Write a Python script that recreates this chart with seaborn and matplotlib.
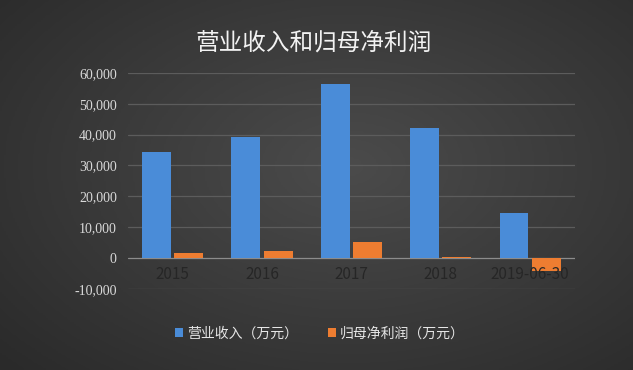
import matplotlib
matplotlib.use('Agg')
import matplotlib.pyplot as plt
from matplotlib.colors import LinearSegmentedColormap
import seaborn as sns
import numpy as np
import pandas as pd

# data (万元)
periods = ['2015', '2016', '2017', '2018', '2019-06-30']
revenue = [34400, 39300, 56500, 42200, 14700]
net_profit = [1700, 2400, 5300, 400, -4100]
series_names = ['营业收入（万元）', '归母净利润（万元）']
y_ticks = [-10000, 0, 10000, 20000, 30000, 40000, 50000, 60000]

df = pd.DataFrame({
    'period': periods * 2,
    'value': revenue + net_profit,
    'series': [series_names[0]] * len(periods) + [series_names[1]] * len(periods),
})

sns.set_theme(style='white')
plt.rcParams['font.family'] = ['Noto Sans CJK SC', 'DejaVu Sans']

fig = plt.figure(figsize=(6.33, 3.70), dpi=100)

# dark radial background
bg = fig.add_axes([0, 0, 1, 1], zorder=-10)
yy, xx = np.mgrid[0:1:200j, 0:1:340j]
r = np.sqrt(((xx - 0.55) / 0.75) ** 2 + ((yy - 0.45) / 0.8) ** 2)
bg_cmap = LinearSegmentedColormap.from_list('bg', ['#4b4b4b', '#2a2a2a'])
bg.imshow(r, cmap=bg_cmap, aspect='auto', extent=[0, 1, 0, 1], vmin=0, vmax=1)
bg.axis('off')

ax = fig.add_axes([0.202, 0.219, 0.706, 0.584])
ax.set_facecolor('none')

sns.barplot(data=df, x='period', y='value', hue='series',
            palette=['#4a8cd8', '#ee7d31'], width=0.72, gap=0.1,
            saturation=1, linewidth=0, edgecolor='none', ax=ax)

ax.set_ylim(-10000, 60000)
ax.set_yticks(y_ticks)
ax.set_yticklabels([f'{v:,}' for v in y_ticks], family=['Liberation Serif'],
                   fontsize=10, color='#d9d9d9')
ax.set_xticks(range(len(periods)))
ax.set_xticklabels(periods, family=['Liberation Serif'], fontsize=10, color='#e0e0e0')
ax.tick_params(length=0, pad=8)
ax.tick_params(axis='x', pad=6)
ax.set_xlabel('')
ax.set_ylabel('')
for s in ax.spines.values():
    s.set_visible(False)
# category labels sit just under the zero line, drawn over the bars
ax.spines['bottom'].set_position(('data', 0))
ax.xaxis.set_zorder(5)

for v in y_ticks:
    ax.axhline(v, color='#8c8c8c' if v == 0 else '#5c5c5c', lw=0.9, zorder=0)

leg = ax.legend(loc='upper center', bbox_to_anchor=(0.43, -0.115), ncol=2,
                frameon=False, handlelength=0.55, handleheight=0.55,
                handletextpad=0.3, columnspacing=2.2, fontsize=10)
for t in leg.get_texts():
    t.set_color('#e6e6e6')

fig.text(0.495, 0.885, '营业收入和归母净利润', ha='center', va='center',
         fontsize=17, color='#f2f2f2')

fig.savefig('out.png', dpi=100)
